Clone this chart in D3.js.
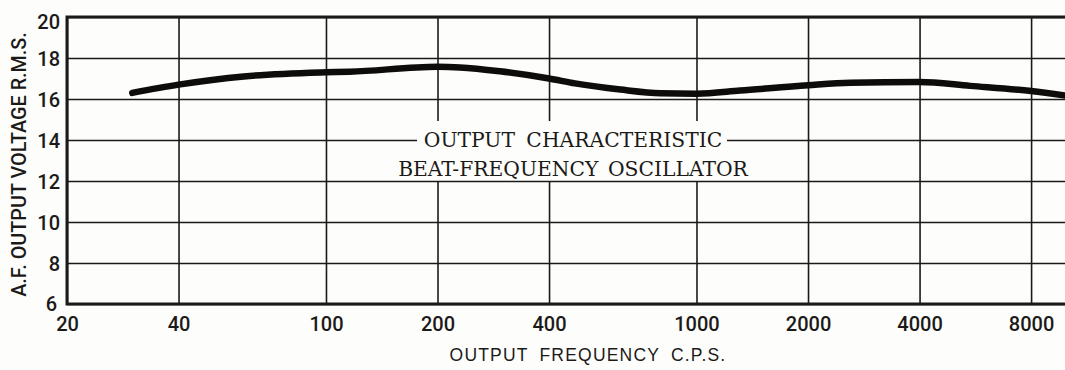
<!DOCTYPE html>
<html>
<head>
<meta charset="utf-8">
<script src="https://cdn.jsdelivr.net/npm/d3@7"></script>
<style>
  html, body { margin: 0; padding: 0; background: #fdfdfb; }
  svg { display: block; }
</style>
</head>
<body>
<svg id="chart" width="1065" height="370"></svg>
<script>
// Output characteristic of a beat-frequency oscillator
const frequencies = [30, 40, 60, 100, 116, 200, 230, 295, 400, 470, 623, 800, 1000, 1312, 2000, 2600, 4000, 5480, 8000, 9900];
const voltages    = [16.3, 16.7, 17.1, 17.3, 17.33, 17.57, 17.54, 17.35, 17.0, 16.76, 16.46, 16.28, 16.26, 16.41, 16.67, 16.79, 16.83, 16.64, 16.39, 16.17];

const xTicks = [20, 40, 100, 200, 400, 1000, 2000, 4000, 8000];
const yTicks = [6, 8, 10, 12, 14, 16, 18, 20];

const titleLines = ["OUTPUT CHARACTERISTIC", "BEAT-FREQUENCY OSCILLATOR"];
const xTitle = "OUTPUT FREQUENCY  C.P.S.";
const yTitle = "A.F. OUTPUT VOLTAGE R.M.S.";

const svg = d3.select("#chart");
const W = 1065, H = 370;
const plot = { left: 67, top: 17, bottom: 304, right: 1067 };

const x = d3.scaleLog().domain([20, 10000]).range([plot.left, plot.right]);
const y = d3.scaleLinear().domain([6, 20]).range([plot.bottom, plot.top]);

const ink = "#1c1a18";
const paper = "#fdfdfb";
const sans = "Roboto, 'Liberation Sans', Arial, sans-serif";

// vertical grid
svg.append("g")
  .attr("transform", `translate(0,${plot.bottom})`)
  .call(d3.axisBottom(x).tickValues(xTicks).tickSize(-(plot.bottom - plot.top)).tickFormat(""))
  .call(g => g.select(".domain").remove())
  .call(g => g.selectAll(".tick line").attr("stroke", ink).attr("stroke-width", 1.6));

// blank panel behind the caption
svg.append("rect")
  .attr("x", 392).attr("y", 121).attr("width", 364).attr("height", 60)
  .attr("fill", paper);

// horizontal grid
svg.append("g")
  .attr("transform", `translate(${plot.left},0)`)
  .call(d3.axisLeft(y).tickValues(yTicks).tickSize(-(W - plot.left)).tickFormat(""))
  .call(g => g.select(".domain").remove())
  .call(g => g.selectAll(".tick line").attr("stroke", ink).attr("stroke-width", 1.6));

// frame: left, top and bottom
svg.append("path")
  .attr("d", `M${W},${y(20)}H${plot.left}V${y(6)}H${W}`)
  .attr("fill", "none").attr("stroke", ink).attr("stroke-width", 3);

// caption
const cx = 573;
const caption = svg.append("g")
  .attr("font-family", "'DejaVu Serif', serif")
  .attr("font-size", 20.3)
  .attr("fill", ink)
  .attr("text-anchor", "middle");
caption.append("rect")
  .attr("x", 417).attr("y", 130).attr("width", 310).attr("height", 22)
  .attr("fill", paper);
caption.append("text").attr("x", cx).attr("y", 147).attr("word-spacing", 5).text(titleLines[0]);
caption.append("text").attr("x", cx).attr("y", 176).attr("word-spacing", 3).text(titleLines[1]);

// response curve
const line = d3.line()
  .x((d, i) => x(frequencies[i]))
  .y(d => y(d))
  .curve(d3.curveMonotoneX);
svg.append("path")
  .datum(voltages)
  .attr("d", line)
  .attr("fill", "none")
  .attr("stroke", "#0d0c0b")
  .attr("stroke-width", 6.5)
  .attr("stroke-linecap", "round")
  .attr("stroke-linejoin", "round");

// tick labels
const yAxis = svg.append("g")
  .attr("transform", `translate(${plot.left},0)`)
  .call(d3.axisLeft(y).tickValues(yTicks).tickSize(0).tickPadding(7).tickFormat(d3.format("d")))
  .call(g => g.select(".domain").remove());
yAxis.selectAll("text")
  .attr("font-family", sans).attr("font-weight", 500)
  .attr("font-size", 20).attr("fill", ink)
  .attr("dy", d => d === 20 ? "0.55em" : (d === 6 ? "0.3em" : "0.35em"))
  .attr("dx", d => d === 6 ? -3 : 0);

const xAxis = svg.append("g")
  .attr("transform", `translate(0,${plot.bottom})`)
  .call(d3.axisBottom(x).tickValues(xTicks).tickSize(0).tickPadding(13).tickFormat(d3.format("d")))
  .call(g => g.select(".domain").remove());
xAxis.selectAll("text")
  .attr("font-family", sans).attr("font-weight", 500)
  .attr("font-size", 20).attr("fill", ink);

// axis titles
svg.append("text")
  .attr("x", 588).attr("y", 361)
  .attr("text-anchor", "middle")
  .attr("font-family", "'Liberation Sans', Arial, sans-serif")
  .attr("font-size", 17.5).attr("letter-spacing", 1.2).attr("word-spacing", 5)
  .attr("fill", ink)
  .text(xTitle);

svg.append("text")
  .attr("transform", `translate(26,${(y(6) + y(20)) / 2 + 4}) rotate(-90)`)
  .attr("text-anchor", "middle")
  .attr("font-family", sans).attr("font-weight", 500)
  .attr("font-size", 19.8)
  .attr("fill", ink)
  .text(yTitle);
</script>
</body>
</html>
